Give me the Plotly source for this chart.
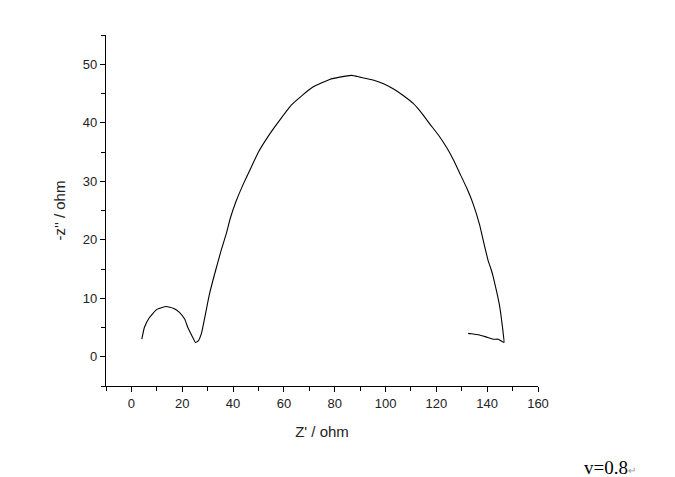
import plotly.graph_objects as go

# Nyquist curve (Z' , -Z'')
z_real = [4.1, 5.1, 7.1, 10.0, 13.7, 16.5, 18.9, 21.0, 22.2, 23.8, 25.2, 26.3, 27.5,
          29.0, 30.7, 33.1, 35.2, 37.3, 39.0, 41.3, 43.8, 46.5, 50.0, 54.0, 58.3,
          62.9, 67.0, 71.4, 78.0, 82.0, 86.6, 89.9, 95.1, 99.0, 103.0, 106.8, 110.9,
          114.3, 117.4, 120.8, 124.0, 126.8, 129.3, 132.0, 134.5, 137.0, 139.1, 140.4,
          141.5, 142.4, 143.8, 145.0, 145.9, 146.3, 146.6, 144.4, 142.4, 139.5, 136.5,
          134.5, 133.2, 132.5]
z_imag = [3.0, 5.0, 6.7, 8.1, 8.6, 8.3, 7.6, 6.4, 5.0, 3.6, 2.45, 2.7, 3.9,
          7.0, 10.7, 14.7, 18.0, 21.0, 23.8, 26.7, 29.3, 31.8, 35.0, 37.8, 40.4,
          43.0, 44.6, 46.1, 47.4, 47.8, 48.1, 47.8, 47.3, 46.7, 45.8, 44.7, 43.3,
          41.6, 39.8, 37.9, 35.8, 33.6, 31.3, 28.8, 26.1, 22.6, 18.7, 16.4,
          15.0, 13.6, 11.0, 8.4, 5.5, 4.0, 2.45, 3.0, 3.0, 3.4, 3.77,
          3.9, 3.95, 4.0]

x_range = [-10, 160]
y_range = [-5, 55]

fig = go.Figure()
fig.add_trace(go.Scatter(x=z_real, y=z_imag, mode="lines",
                         line=dict(color="black", width=1.1, shape="spline", smoothing=0.4),
                         showlegend=False, hoverinfo="skip"))

axis_common = dict(
    showline=True, linecolor="black", linewidth=1.4,
    ticks="outside", ticklen=5, tickwidth=1.2, tickcolor="black",
    showgrid=False, zeroline=False, automargin=False,
    tickfont=dict(family="Liberation Sans, Arial", size=13, color="#222"),
    title_font=dict(family="Liberation Sans, Arial", size=15, color="#222"),
)

fig.update_xaxes(range=x_range, tick0=0, dtick=20,
                 minor=dict(ticks="outside", ticklen=4, dtick=10, tick0=0, tickcolor="black", tickwidth=1.2),
                 title_text="Z' / ohm", title_standoff=16, **axis_common)
fig.update_yaxes(range=y_range, tick0=0, dtick=10,
                 minor=dict(ticks="outside", ticklen=4, dtick=5, tick0=0, tickcolor="black", tickwidth=1.2),
                 title_text="-z'' / ohm", title_standoff=13, **axis_common)

fig.add_annotation(text="v=0.8<span style='font-size:10px;color:#999'>↵</span>",
                   xref="paper", yref="paper", x=1.103, y=-0.231,
                   xanchor="left", yanchor="middle", showarrow=False,
                   font=dict(family="Liberation Serif, Times New Roman", size=19, color="black"))

# the page body adds ~8px offset, so margins are trimmed on the left/top
fig.update_layout(width=675, height=477,
                  margin=dict(l=98, r=145, t=27, b=99, autoexpand=False),
                  paper_bgcolor="white", plot_bgcolor="white")

fig.write_html("out.html")
